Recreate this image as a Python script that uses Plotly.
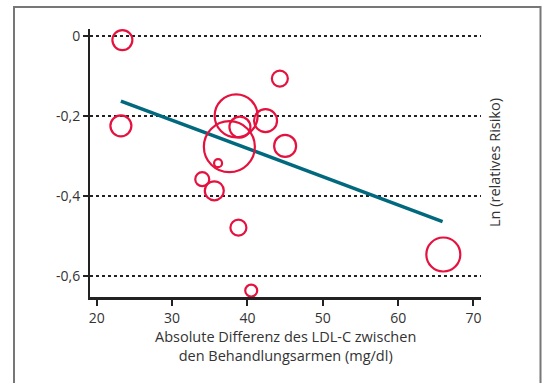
import plotly.graph_objects as go

# Study data: absolute LDL-C difference (mg/dl), ln(relative risk), bubble weight
ldl_diff = [23.4, 23.2, 38.5, 39.0, 42.4, 37.6, 36.1, 45.0, 34.0, 35.6, 38.8, 40.5, 44.3, 66.0]
ln_rr = [-0.011, -0.225, -0.200, -0.228, -0.212, -0.277, -0.318, -0.275, -0.358, -0.387, -0.479, -0.636, -0.107, -0.546]
weight = [20, 21, 43, 21, 23, 51, 8, 22, 14, 19, 16, 12, 16, 34]

# Regression line endpoints
reg_x = [23.2, 65.9]
reg_y = [-0.163, -0.464]

y_ticks = [0, -0.2, -0.4, -0.6]
y_ticklabels = ["0", "-0,2", "-0,4", "-0,6"]
x_ticks = [20, 30, 40, 50, 60, 70]
x_ticklabels = ["20", "30", "40", "50", "60", "70"]

RED = "#e5123f"
TEAL = "#00697e"
FONT = "Open Sans"

fig = go.Figure()
fig.add_trace(go.Scatter(
    x=reg_x, y=reg_y, mode="lines",
    line=dict(color=TEAL, width=3.5), showlegend=False, hoverinfo="skip"))
fig.add_trace(go.Scatter(
    x=ldl_diff, y=ln_rr, mode="markers",
    marker=dict(size=weight, sizemode="diameter", sizeref=1, opacity=1,
                color="rgba(0,0,0,0)", line=dict(color=RED, width=2.2)),
    showlegend=False))

fig.update_layout(
    width=542, height=383,
    margin=dict(l=90, r=61, t=29, b=86),
    paper_bgcolor="white", plot_bgcolor="white",
    font=dict(family=FONT, size=14, color="#333333"),
    xaxis=dict(range=[19.1, 71.0], tickvals=x_ticks, ticktext=x_ticklabels,
               showgrid=False, zeroline=False, showline=True, linecolor="#222222",
               linewidth=3, ticks="outside", ticklen=6, tickwidth=2, tickcolor="#222222",
               tickfont=dict(size=14, color="#333333")),
    yaxis=dict(range=[-0.652, 0.0167], tickvals=y_ticks, ticktext=y_ticklabels,
               showgrid=True, gridcolor="#222222", gridwidth=1.5, griddash="dot",
               zeroline=False, showline=True, linecolor="#222222", linewidth=2,
               ticks="outside", ticklen=5, tickwidth=2, tickcolor="#222222",
               tickfont=dict(size=14, color="#333333")),
    annotations=[
        dict(text="Absolute Differenz des LDL-C zwischen<br>den Behandlungsarmen (mg/dl)",
             xref="paper", yref="paper", x=0.5, y=-0.105, xanchor="center", yanchor="top",
             showarrow=False, font=dict(size=14.5, color="#333333"), align="center"),
        dict(text="Ln (relatives Risiko)", xref="paper", yref="paper",
             x=(494 - 90) / 391, y=0.5, xanchor="center", yanchor="middle",
             textangle=-90, showarrow=False, font=dict(size=14.5, color="#333333")),
    ],
    shapes=[
        dict(type="rect", xref="paper", yref="paper",
             x0=(14 - 90) / 391, x1=(540.5 - 90) / 391,
             y0=-0.5, y1=(297 - 7) / 268,
             line=dict(color="#777777", width=2), fillcolor="rgba(0,0,0,0)", layer="below"),
    ],
)

fig.write_html("out.html")
